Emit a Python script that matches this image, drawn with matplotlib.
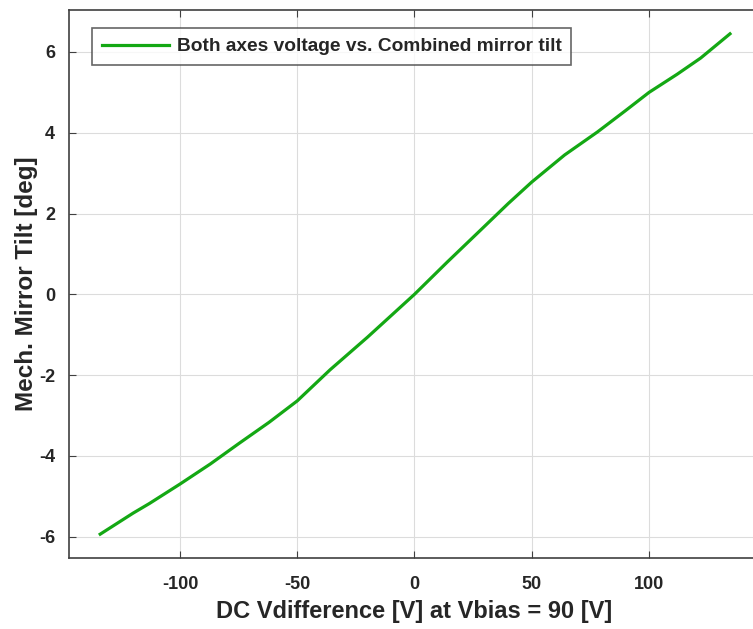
import numpy as np
import matplotlib.pyplot as plt

# values
v_diff = [-134, -120, -113, -100, -87, -75, -62, -50, -36, -20, 0, 14, 28, 40, 50,
          64, 78, 90, 100, 112, 122, 134.5]
tilt = [-5.94, -5.42, -5.18, -4.70, -4.20, -3.70, -3.17, -2.64, -1.87, -1.06, 0.0,
        0.80, 1.58, 2.25, 2.78, 3.45, 4.02, 4.55, 5.00, 5.45, 5.85, 6.45]
x_ticks = [-100, -50, 0, 50, 100]
y_ticks = [-6, -4, -2, 0, 2, 4, 6]

plt.rcParams['font.family'] = ['Liberation Sans', 'DejaVu Sans']
plt.rcParams['font.weight'] = 'bold'
plt.rcParams['axes.unicode_minus'] = False
txt = '#262626'

fig = plt.figure(figsize=(7.53, 6.29), dpi=100)
ax = fig.add_axes([69/753, 71/629, 691/753, 548/629])

ax.plot(v_diff, tilt, color='#14a814', lw=2.3, label='Both axes voltage vs. Combined mirror tilt')

ax.set_xlim(-147.3, 147.3)
ax.set_ylim(-6.53, 7.04)
ax.set_xticks(x_ticks)
ax.set_yticks(y_ticks)
ax.grid(True, color='#dcdcdc', lw=0.8)
ax.set_axisbelow(True)
ax.tick_params(direction='in', top=True, right=True, length=5, width=0.8,
               colors='#404040', labelcolor=txt, labelsize=13)
ax.tick_params(axis='x', pad=13)
ax.tick_params(axis='y', pad=10)
for s in ax.spines.values():
    s.set_color('#404040')
    s.set_linewidth(1.2)

ax.set_xlabel('DC Vdifference [V] at Vbias = 90 [V]', fontsize=17, fontweight='bold', color=txt, labelpad=5)
ax.set_ylabel('Mech. Mirror Tilt [deg]', fontsize=17.5, fontweight='bold', color=txt, labelpad=1)

leg = ax.legend(loc='upper left', bbox_to_anchor=(0.02, 0.984), fontsize=13.8, frameon=True,
                fancybox=False, edgecolor='#404040', handlelength=3.5, borderpad=0.5,
                handletextpad=0.4)
leg.get_frame().set_linewidth(1.2)
for t in leg.get_texts():
    t.set_color(txt)
    t.set_fontweight('bold')

fig.savefig('out.png', dpi=100)
